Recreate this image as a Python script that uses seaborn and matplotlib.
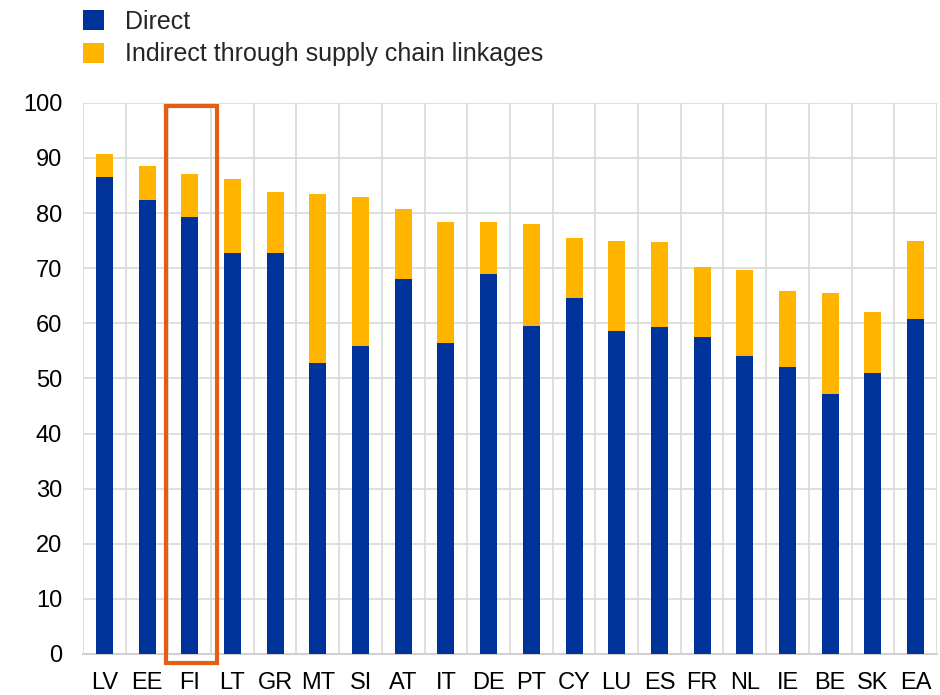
import matplotlib
matplotlib.use("Agg")
import matplotlib.pyplot as plt
from matplotlib.patches import Rectangle, Patch
from matplotlib.ticker import FixedLocator, MultipleLocator
import seaborn as sns
import pandas as pd

countries = ["LV", "EE", "FI", "LT", "GR", "MT", "SI", "AT", "IT", "DE",
             "PT", "CY", "LU", "ES", "FR", "NL", "IE", "BE", "SK", "EA"]
direct = [86.5, 82.3, 79.2, 72.8, 72.8, 52.8, 55.8, 68.1, 56.4, 68.9,
          59.6, 64.6, 58.6, 59.4, 57.5, 54.0, 52.0, 47.2, 50.9, 60.8]
total = [90.7, 88.5, 87.1, 86.1, 83.9, 83.5, 82.9, 80.8, 78.3, 78.3,
         78.0, 75.4, 75.0, 74.8, 70.2, 69.6, 65.8, 65.5, 62.0, 74.9]
highlight = "FI"

BLUE = "#003399"
ORANGE = "#FFB400"
BOX = "#E35D12"

df = pd.DataFrame({"country": countries, "direct": direct, "total": total})

sns.set_theme(style="white")
plt.rcParams["font.family"] = ["Liberation Sans", "DejaVu Sans"]

fig = plt.figure(figsize=(9.4, 6.95), dpi=100)
ax = fig.add_axes([0.0883, 0.059, 0.9085, 0.793])

sns.barplot(data=df, x="country", y="total", color=ORANGE, width=0.4,
            saturation=1, linewidth=0, ax=ax, zorder=3)
sns.barplot(data=df, x="country", y="direct", color=BLUE, width=0.4,
            saturation=1, linewidth=0, ax=ax, zorder=3)

ax.set_xlim(-0.5, len(countries) - 0.5)
ax.set_ylim(0, 100)
ax.yaxis.set_major_locator(MultipleLocator(10))
ax.xaxis.set_minor_locator(FixedLocator([i - 0.5 for i in range(len(countries) + 1)]))
ax.grid(True, axis="y", which="major", color="#d9d9d9", linewidth=1.2, zorder=0)
ax.grid(True, axis="x", which="minor", color="#d9d9d9", linewidth=1.2, zorder=0)
ax.grid(False, axis="x", which="major")
ax.set_axisbelow(True)
for s in ["top", "right", "left"]:
    ax.spines[s].set_visible(False)
ax.spines["bottom"].set_color("#d0d0d0")
ax.spines["bottom"].set_linewidth(1.5)
ax.set_xlabel("")
ax.set_ylabel("")
ax.tick_params(axis="both", which="both", length=0, labelsize=17, colors="#000000")
ax.tick_params(axis="x", pad=13)
ax.tick_params(axis="y", pad=15)

# Outline around the highlighted country
hi = countries.index(highlight)
ax.add_patch(Rectangle((hi - 0.555, -1.6), 1.19, 101.1, fill=False,
                       edgecolor=BOX, linewidth=3, clip_on=False, zorder=5))

handles = [Patch(facecolor=BLUE, edgecolor="none", label="Direct"),
           Patch(facecolor=ORANGE, edgecolor="none",
                 label="Indirect through supply chain linkages")]
fig.legend(handles=handles, loc="upper left", bbox_to_anchor=(0.088, 0.986),
           frameon=False, fontsize=18, handlelength=0.85, handleheight=0.85,
           handletextpad=0.85, labelspacing=0.35, borderaxespad=0.0,
           borderpad=0.0)

fig.savefig("out.png", dpi=100)
